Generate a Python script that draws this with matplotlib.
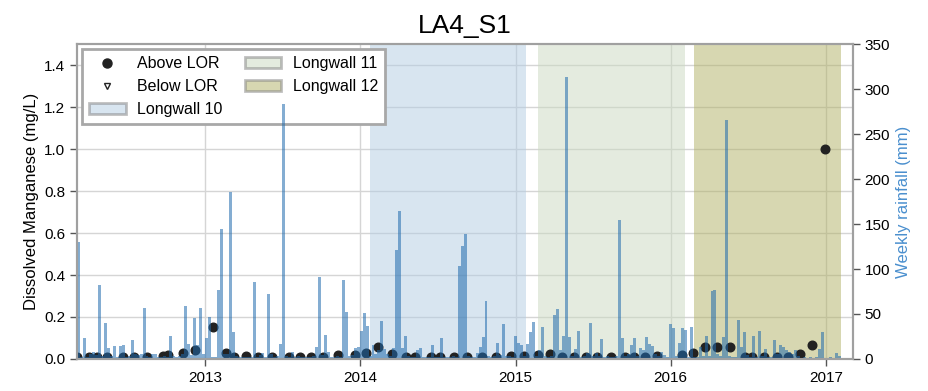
import numpy as np
import pandas as pd
import matplotlib
matplotlib.use('Agg')
import matplotlib.pyplot as plt
import matplotlib.dates as mdates
from matplotlib.lines import Line2D
from matplotlib.patches import Patch

plt.rcParams['font.family'] = ['Liberation Sans', 'DejaVu Sans']

# weekly rainfall (mm), one value per week from the first week
rain_start = '2012-03-05'
rain_mm = [
    130, 2, 23, 2, 5, 8, 4, 82, 3, 40, 12, 3, 14,
    2, 14, 16, 2, 3, 21, 5, 4, 6, 57, 3, 2, 5,
    6, 2, 2, 3, 2, 26, 3, 2, 3, 5, 59, 17, 4,
    45, 15, 57, 5, 23, 47, 2, 2, 77, 144, 5, 5, 186,
    30, 3, 2, 2, 2, 2, 2, 86, 2, 4, 7, 2, 72,
    6, 2, 3, 17, 283, 3, 2, 8, 2, 3, 2, 2, 2,
    2, 3, 13, 91, 4, 27, 8, 2, 2, 3, 2, 88, 52,
    3, 4, 12, 13, 31, 51, 37, 3, 16, 5, 10, 42, 11,
    5, 3, 12, 121, 164, 12, 26, 3, 2, 2, 10, 12, 2,
    2, 2, 15, 2, 2, 23, 2, 2, 2, 3, 2, 103, 126,
    139, 3, 2, 2, 7, 13, 24, 64, 3, 2, 3, 18, 4,
    39, 3, 3, 2, 26, 18, 16, 3, 17, 30, 41, 3, 10,
    35, 3, 2, 3, 49, 55, 10, 26, 313, 24, 3, 11, 31,
    2, 3, 7, 40, 3, 7, 3, 22, 2, 3, 2, 2, 3,
    155, 23, 3, 5, 15, 23, 3, 12, 10, 24, 17, 14, 5,
    3, 8, 4, 2, 39, 34, 3, 18, 34, 32, 2, 36, 2,
    2, 13, 3, 25, 3, 75, 77, 5, 3, 24, 266, 3, 2,
    2, 43, 13, 30, 4, 2, 25, 2, 31, 3, 11, 2, 2,
    21, 5, 16, 13, 10, 8, 6, 10, 3, 1, 2, 1, 2,
    1, 2, 11, 30, 1, 1, 2, 1, 7, 3, 1,
]

# manganese samples above the limit of reporting
mn_dates = [
    '2012-03-05', '2012-04-03', '2012-04-21', '2012-05-14', '2012-06-22',
    '2012-07-16', '2012-08-17', '2012-09-23', '2012-10-06', '2012-11-10',
    '2012-12-08', '2013-01-20', '2013-02-19', '2013-03-10', '2013-04-07',
    '2013-05-05', '2013-06-07', '2013-07-16', '2013-08-11', '2013-09-07',
    '2013-10-05', '2013-11-10', '2013-12-18', '2014-01-15', '2014-02-12',
    '2014-03-17', '2014-04-19', '2014-05-10', '2014-06-15', '2014-07-08',
    '2014-08-10', '2014-09-08', '2014-10-13', '2014-11-17', '2014-12-22',
    '2015-01-22', '2015-02-24', '2015-03-23', '2015-04-21', '2015-05-18',
    '2015-06-15', '2015-07-11', '2015-08-13', '2015-09-15', '2015-10-07',
    '2015-11-01', '2015-11-29', '2016-01-27', '2016-02-22', '2016-03-22',
    '2016-04-20', '2016-05-20', '2016-06-25', '2016-07-11', '2016-08-09',
    '2016-09-07', '2016-10-04', '2016-11-01', '2016-11-28', '2016-12-29',
]
mn_values = [
    0.01, 0.01, 0.01, 0.01, 0.01, 0.01, 0.01, 0.015, 0.02, 0.03,
    0.043, 0.152, 0.027, 0.01, 0.012, 0.01, 0.01, 0.01, 0.01, 0.01,
    0.01, 0.019, 0.019, 0.027, 0.057, 0.022, 0.01, 0.01, 0.01, 0.01,
    0.01, 0.01, 0.01, 0.01, 0.014, 0.014, 0.02, 0.022, 0.01, 0.01,
    0.01, 0.01, 0.01, 0.01, 0.01, 0.01, 0.015, 0.02, 0.027, 0.058,
    0.055, 0.057, 0.01, 0.01, 0.01, 0.01, 0.01, 0.025, 0.066, 1.0,
]

# longwall mining periods
lw_names = ['Longwall 10', 'Longwall 11', 'Longwall 12']
lw_start = ['2014-01-24', '2015-02-24', '2016-02-26']
lw_end = ['2015-01-26', '2016-02-03', '2017-02-05']
lw_colors = ['#b3cde3', '#cbd9c1', '#b1b165']

fig = plt.figure(figsize=(9.29, 3.91), dpi=100)
ax = fig.add_axes([0.083, 0.082, 0.835, 0.805])

for name, s, e, c in zip(lw_names, lw_start, lw_end, lw_colors):
    ax.axvspan(pd.Timestamp(s), pd.Timestamp(e), color=c, alpha=0.5, lw=0)

ax.plot(pd.to_datetime(mn_dates), mn_values, 'o', color='#222222', ms=6.2, zorder=3)

ax.set_xlim(pd.Timestamp('2012-03-05'), pd.Timestamp('2017-03-05'))
ax.set_ylim(0, 1.5)
ax.set_yticks(np.arange(0, 1.41, 0.2))
ax.set_axisbelow(True)
ax.grid(True, color='#d5d5d5', lw=1)
ax.set_ylabel('Dissolved Manganese (mg/L)', fontsize=12)
ax.set_title('LA4_S1', fontsize=19, pad=8)
ax.xaxis.set_major_locator(mdates.YearLocator())
ax.xaxis.set_major_formatter(mdates.DateFormatter('%Y'))

# rainfall on a second axis, drawn above the samples
ax2 = ax.twinx()
rain_dates = pd.date_range(rain_start, periods=len(rain_mm), freq='7D')
ax2.bar(rain_dates, rain_mm, width=7, align='edge', color='#1f6aad', alpha=0.55,
        lw=0, antialiased=False)
ax2.set_ylim(0, 350)
ax2.set_yticks(np.arange(0, 351, 50))
ax2.set_ylabel('Weekly rainfall (mm)', color='#4a8fce', fontsize=12)

for a in (ax, ax2):
    for sp in a.spines.values():
        sp.set_color('#a0a0a0')
        sp.set_linewidth(1.5)
    a.tick_params(labelsize=11, color='#555555', length=5, width=1)

handles = [
    Line2D([], [], marker='o', ls='', color='#222222', ms=6.5),
    Line2D([], [], marker='v', ls='', mfc='none', mec='#222222', ms=5),
]
labels = ['Above LOR', 'Below LOR']
for name, c in zip(lw_names, lw_colors):
    handles.append(Patch(facecolor=c, alpha=0.5, edgecolor='#808080', lw=2))
    labels.append(name)
leg = ax.legend(handles, labels, loc='upper left', ncol=2, fontsize=11.5,
                frameon=True, fancybox=False, framealpha=1,
                edgecolor='#a8a8a8', columnspacing=1.4, handlelength=2.3,
                handletextpad=0.7, borderpad=0.45, labelspacing=0.5,
                borderaxespad=0.3)
leg.get_frame().set_linewidth(2)

plt.savefig('out.png')
